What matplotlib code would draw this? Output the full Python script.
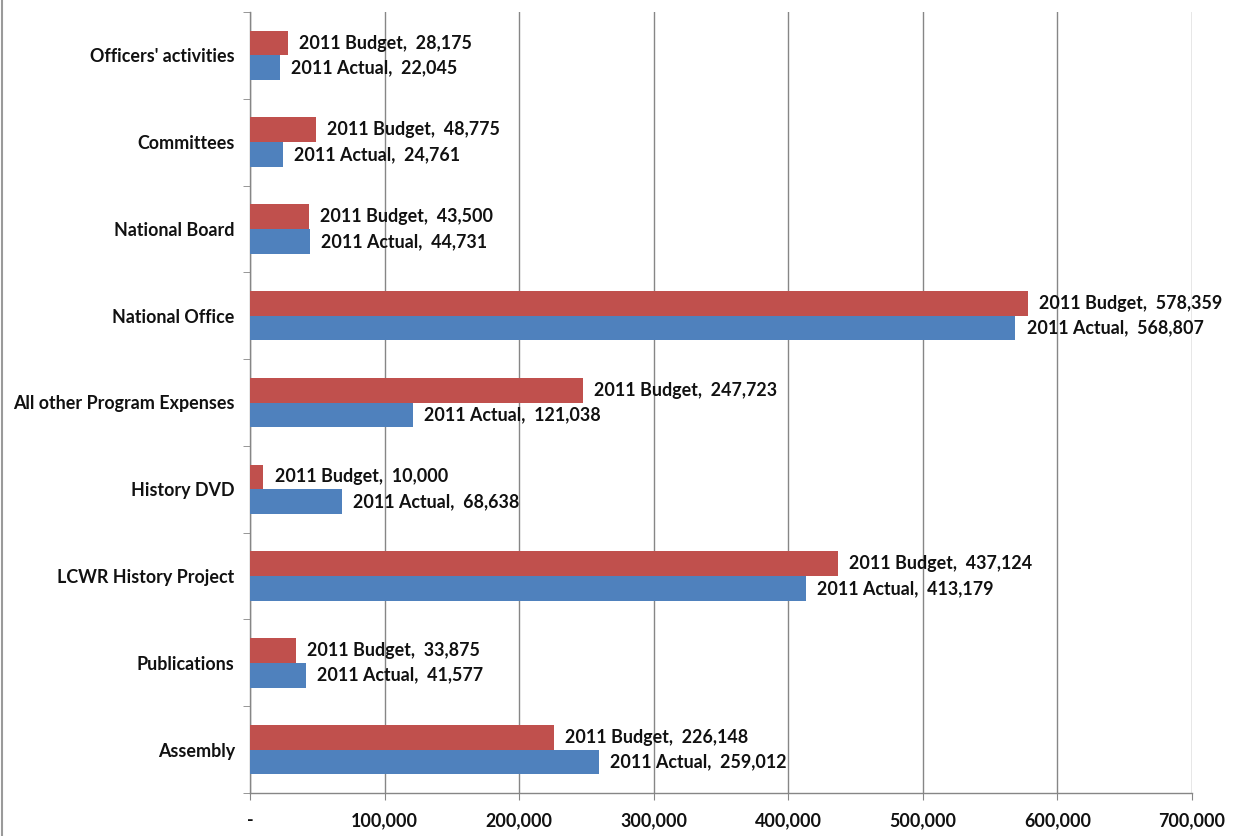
import matplotlib
matplotlib.use("Agg")
import matplotlib.pyplot as plt
from matplotlib.ticker import FuncFormatter, FixedLocator
from matplotlib.lines import Line2D
import numpy as np

categories = ["Officers' activities", "Committees", "National Board", "National Office",
              "All other Program Expenses", "History DVD", "LCWR History Project",
              "Publications", "Assembly"]
budget = [28175, 48775, 43500, 578359, 247723, 10000, 437124, 33875, 226148]
actual = [22045, 24761, 44731, 568807, 121038, 68638, 413179, 41577, 259012]
budget_name = "2011 Budget"
actual_name = "2011 Actual"

plt.rcParams['font.family'] = ['Lato', 'DejaVu Sans']

fig = plt.figure(figsize=(12.41, 8.36), dpi=100)
ax = fig.add_axes([250/1241, 1-793/836, (1192-250)/1241, (793-12)/836])

y = np.arange(len(categories))
h = 0.285
red = "#C0504D"
blue = "#4F81BD"
txt = "#111111"
fs = 12.9
ax.barh(y - h/2, budget, height=h, color=red, zorder=3)
ax.barh(y + h/2, actual, height=h, color=blue, zorder=3)

ax.set_ylim(len(categories) - 0.5, -0.5)
ax.set_xlim(0, 700000)

for yi, b, a in zip(y, budget, actual):
    ax.annotate(f"{budget_name},  {b:,}", (b, yi - h/2), xytext=(8, 0), textcoords="offset points",
                va="center", ha="left", fontsize=fs, fontweight="bold", color=txt, zorder=4)
    ax.annotate(f"{actual_name},  {a:,}", (a, yi + h/2), xytext=(8, 0), textcoords="offset points",
                va="center", ha="left", fontsize=fs, fontweight="bold", color=txt, zorder=4)

ax.set_yticks(y)
ax.set_yticklabels(categories, fontsize=fs, fontweight="bold", color=txt)
ax.yaxis.set_minor_locator(FixedLocator(np.arange(-0.5, len(categories) + 0.5, 1)))
ax.tick_params(axis="y", which="major", length=0, pad=11)
ax.tick_params(axis="y", which="minor", length=5, color="#868686", direction="out")

ax.set_xticks(np.arange(0, 700001, 100000))
ax.xaxis.set_major_formatter(FuncFormatter(lambda v, p: "-" if v == 0 else f"{int(v):,}"))
ax.tick_params(axis="x", length=5, color="#868686", labelsize=fs, pad=9, labelcolor=txt)
for lbl in ax.get_xticklabels():
    lbl.set_fontweight("bold")

ax.grid(axis="x", color="#868686", linewidth=1, zorder=0)
ax.set_axisbelow(True)
for s in ["top", "right"]:
    ax.spines[s].set_visible(False)
for s in ["left", "bottom"]:
    ax.spines[s].set_color("#868686")
    ax.spines[s].set_linewidth(1)

fig.lines.append(Line2D([2.5/1241, 2.5/1241], [0, 1], transform=fig.transFigure,
                        color="#9a9a9a", linewidth=1.5))

fig.savefig("out.png", dpi=100)
